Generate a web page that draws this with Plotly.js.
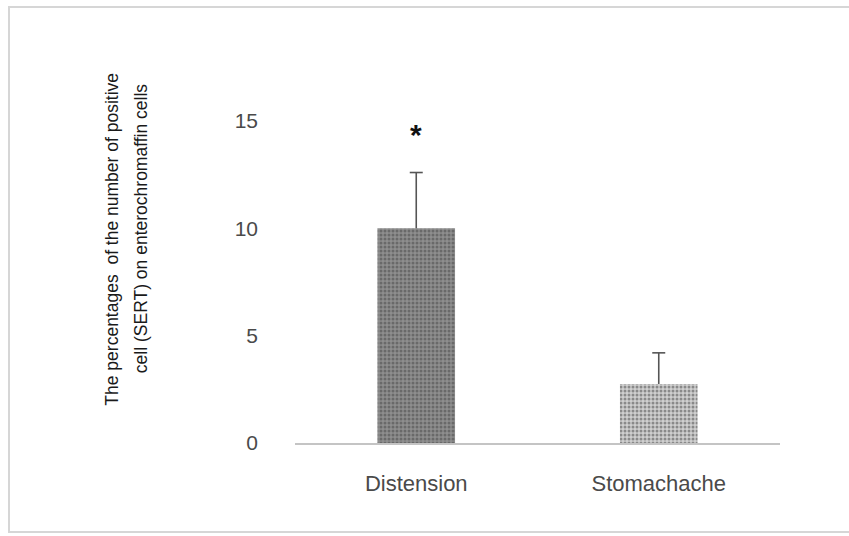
<!DOCTYPE html>
<html>
<head>
<meta charset="utf-8">
<script src="https://cdn.plot.ly/plotly-3.0.1.min.js"></script>
<style>
  html, body { margin: 0; padding: 0; background: #ffffff; }
  #wrap { position: relative; width: 849px; height: 536px; overflow: hidden; }
  #frame { position: absolute; left: 8px; top: 6px; width: 850px; height: 527px; border: 2px solid #d6d6d6; box-sizing: border-box; pointer-events: none; }
  #chart { position: absolute; left: 0; top: 0; width: 849px; height: 536px; }
</style>
</head>
<body>
<div id="wrap">
  <div id="chart"></div>
  <div id="frame"></div>
</div>
<script>
const categories = ["Distension", "Stomachache"];
const values = [10.0, 2.75];
const errorsUp = [2.6, 1.45];
const yTicks = [0, 5, 10, 15];
const significance = ["*", ""];
const yTitleLines = ["The percentages  of the number of positive", "cell (SERT) on enterochromaffin cells"];

const trace = {
  type: "bar",
  x: categories,
  y: values,
  width: 0.32,
  marker: {
    color: ["#8e8e8e", "#cfcfcf"],
    line: { width: 0 },
    pattern: {
      shape: ".",
      fgcolor: ["#555555", "#a2a2a2"],
      size: 4,
      solidity: 0.45,
      fillmode: "overlay"
    }
  },
  cliponaxis: false,
  hoverinfo: "none"
};

const errColor = "#555555";
const shapes = [];
categories.forEach((c, i) => {
  const top = values[i] + errorsUp[i];
  shapes.push({
    type: "line", xref: "x", yref: "y",
    x0: c, x1: c, y0: values[i], y1: top,
    line: { color: errColor, width: 1.6 }
  });
  shapes.push({
    type: "line", xref: "x", yref: "y",
    xsizemode: "pixel", xanchor: c, x0: -6.5, x1: 6.5,
    y0: top, y1: top,
    line: { color: errColor, width: 1.6 }
  });
});

const annotations = [];
categories.forEach((c, i) => {
  if (significance[i]) {
    annotations.push({
      x: c, xref: "x", y: values[i] + errorsUp[i], yref: "y",
      text: "<b>" + significance[i] + "</b>", showarrow: false,
      yanchor: "bottom", yshift: 20,
      font: { family: "Liberation Sans, Arial, sans-serif", size: 30, color: "#111111" }
    });
  }
});
annotations.push({
  x: -0.377, xref: "paper", y: 0.632, yref: "paper",
  text: yTitleLines[0], showarrow: false, textangle: -90,
  xanchor: "center", yanchor: "middle",
  font: { family: "Liberation Sans, Arial, sans-serif", size: 17.5, color: "#1a1a1a" }
});
annotations.push({
  x: -0.317, xref: "paper", y: 0.665, yref: "paper",
  text: yTitleLines[1], showarrow: false, textangle: -90,
  xanchor: "center", yanchor: "middle",
  font: { family: "Liberation Sans, Arial, sans-serif", size: 17.5, color: "#1a1a1a" }
});

const layout = {
  width: 849,
  height: 536,
  margin: { l: 295, r: 69, t: 121, b: 93 },
  paper_bgcolor: "#ffffff",
  plot_bgcolor: "#ffffff",
  showlegend: false,
  font: { family: "Liberation Sans, Arial, sans-serif", color: "#4a4a4a" },
  xaxis: {
    type: "category",
    range: [-0.5, 1.5],
    showline: true,
    linecolor: "#c4c4c4",
    linewidth: 2,
    ticks: "",
    showgrid: false,
    zeroline: false,
    ticklabelstandoff: 20,
    tickfont: { size: 22, color: "#4a4a4a" }
  },
  yaxis: {
    range: [0, 15],
    tickvals: yTicks,
    ticktext: yTicks.map(String),
    showline: false,
    showgrid: false,
    zeroline: false,
    ticks: "",
    ticklabelstandoff: 36,
    tickfont: { size: 21, color: "#4a4a4a" }
  },
  shapes: shapes,
  annotations: annotations
};

Plotly.newPlot("chart", [trace], layout, { displayModeBar: false, staticPlot: true });
</script>
</body>
</html>
